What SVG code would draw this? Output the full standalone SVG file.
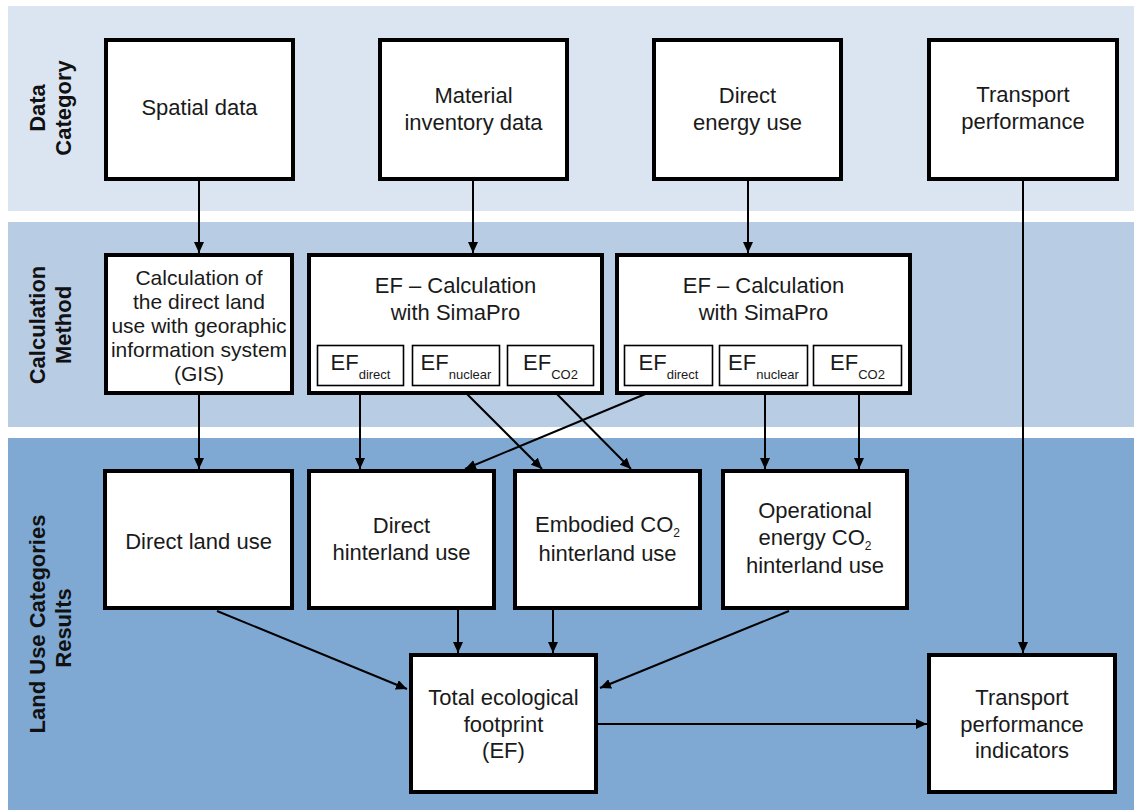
<svg xmlns="http://www.w3.org/2000/svg" width="1134" height="810" viewBox="0 0 1134 810">
  <style>
    .band1 { fill: #dbe5f2; }
    .band2 { fill: #b8cce4; }
    .band3 { fill: #7fa9d3; }
    .box { fill: #ffffff; stroke: #000000; stroke-width: 4; }
    .sub { fill: #ffffff; stroke: #000000; stroke-width: 1.6; }
    .t { font-family: "Liberation Sans", Arial, sans-serif; font-size: 22px; fill: #1a1a1a; text-anchor: middle; }
    .ts { font-family: "Liberation Sans", Arial, sans-serif; font-size: 21px; fill: #1a1a1a; text-anchor: middle; }
    .small { font-size: 13px; }
    .idx { font-size: 12px; }
    .lab { font-family: "Liberation Sans", Arial, sans-serif; font-size: 22px; font-weight: bold; fill: #111111; text-anchor: middle; }
    .c { fill: none; stroke: #000000; stroke-width: 2; marker-end: url(#arrow); }
  </style>
  <defs>
    <marker id="arrow" markerUnits="userSpaceOnUse" markerWidth="11" markerHeight="10" refX="11" refY="5" orient="auto">
      <path d="M0,0 L11,5 L0,10 z" fill="#000000"/>
    </marker>
  </defs>

  <!-- background bands -->
  <g id="bands">
    <rect class="band1" x="8" y="6" width="1126" height="205"/>
    <rect class="band2" x="8" y="222" width="1126" height="205"/>
    <rect class="band3" x="8" y="438" width="1126" height="372"/>
  </g>

  <!-- row labels -->
  <g id="row-labels">
    <text class="lab" transform="translate(45,108) rotate(-90)">Data</text>
    <text class="lab" transform="translate(71,108) rotate(-90)">Category</text>
    <text class="lab" transform="translate(45,325) rotate(-90)">Calculation</text>
    <text class="lab" transform="translate(71,325) rotate(-90)">Method</text>
    <text class="lab" transform="translate(45,624) rotate(-90)">Land Use Categories</text>
    <text class="lab" transform="translate(71,628) rotate(-90)">Results</text>
  </g>

  <!-- connectors -->
  <g id="connectors">
    <path class="c" d="M199,181 L199,253"/>
    <path class="c" d="M473,181 L473,253"/>
    <path class="c" d="M748,181 L748,253"/>
    <path class="c" d="M1023,181 L1023,653"/>
    <path class="c" d="M199,395 L199,469"/>
    <path class="c" d="M360,385 L360,469"/>
    <path class="c" d="M458,385 L542,469"/>
    <path class="c" d="M548,385 L631,469"/>
    <path class="c" d="M667,385 L465,469"/>
    <path class="c" d="M765,385 L765,469"/>
    <path class="c" d="M859,385 L859,469"/>
    <path class="c" d="M217,611 L407,689"/>
    <path class="c" d="M458,610 L458,653"/>
    <path class="c" d="M553,610 L553,653"/>
    <path class="c" d="M789,611 L600,688"/>
    <path class="c" d="M598,724 L927,724"/>
  </g>

  <!-- data category -->
  <g id="spatial-data">
    <rect class="box" x="106" y="40" width="187" height="139"/>
    <text class="t" x="199.5" y="115">Spatial data</text>
  </g>
  <g id="material-inventory">
    <rect class="box" x="380" y="40" width="187" height="139"/>
    <text class="t" x="473.5" y="103">Material</text>
    <text class="t" x="473.5" y="130">inventory data</text>
  </g>
  <g id="direct-energy">
    <rect class="box" x="654" y="40" width="187" height="139"/>
    <text class="t" x="747.5" y="103">Direct</text>
    <text class="t" x="747.5" y="130">energy use</text>
  </g>
  <g id="transport-performance">
    <rect class="box" x="929" y="40" width="188" height="139"/>
    <text class="t" x="1023" y="102">Transport</text>
    <text class="t" x="1023" y="129">performance</text>
  </g>

  <!-- calculation method -->
  <g id="gis-calculation">
    <rect class="box" x="106" y="255" width="186" height="138"/>
    <text class="ts" x="199" y="285">Calculation of</text>
    <text class="ts" x="199" y="309">the direct land</text>
    <text class="ts" x="199" y="333">use with georaphic</text>
    <text class="ts" x="199" y="357">information system</text>
    <text class="ts" x="199" y="381">(GIS)</text>
  </g>
  <g id="ef-simapro-material">
    <rect class="box" x="309" y="255" width="293" height="138"/>
    <text class="t" x="455.5" y="293">EF – Calculation</text>
    <text class="t" x="455.5" y="320">with SimaPro</text>
    <rect class="sub" x="317.5" y="345.5" width="86" height="40"/>
    <text class="t" x="360.5" y="370">EF<tspan class="small" dy="9">direct</tspan></text>
    <rect class="sub" x="412.5" y="345.5" width="87" height="40"/>
    <text class="t" x="456" y="370">EF<tspan class="small" dy="9">nuclear</tspan></text>
    <rect class="sub" x="507.5" y="345.5" width="86" height="40"/>
    <text class="t" x="550.5" y="370">EF<tspan class="small" dy="9">CO2</tspan></text>
  </g>
  <g id="ef-simapro-energy">
    <rect class="box" x="617" y="255" width="293" height="138"/>
    <text class="t" x="763.5" y="293">EF – Calculation</text>
    <text class="t" x="763.5" y="320">with SimaPro</text>
    <rect class="sub" x="624.5" y="345.5" width="88" height="40"/>
    <text class="t" x="668.5" y="370">EF<tspan class="small" dy="9">direct</tspan></text>
    <rect class="sub" x="719.5" y="345.5" width="88" height="40"/>
    <text class="t" x="763.5" y="370">EF<tspan class="small" dy="9">nuclear</tspan></text>
    <rect class="sub" x="813.5" y="345.5" width="88" height="40"/>
    <text class="t" x="857.5" y="370">EF<tspan class="small" dy="9">CO2</tspan></text>
  </g>

  <!-- land use categories -->
  <g id="direct-land-use">
    <rect class="box" x="105" y="471" width="187" height="137"/>
    <text class="t" x="198.5" y="549">Direct land use</text>
  </g>
  <g id="direct-hinterland-use">
    <rect class="box" x="309" y="471" width="185" height="137"/>
    <text class="t" x="401.5" y="533">Direct</text>
    <text class="t" x="401.5" y="560">hinterland use</text>
  </g>
  <g id="embodied-co2">
    <rect class="box" x="515" y="471" width="185" height="137"/>
    <text class="t" x="607.5" y="532">Embodied CO<tspan class="idx" dy="5">2</tspan></text>
    <text class="t" x="607.5" y="561">hinterland use</text>
  </g>
  <g id="operational-energy-co2">
    <rect class="box" x="723" y="471" width="184" height="137"/>
    <text class="t" x="815" y="518">Operational</text>
    <text class="t" x="815" y="545">energy CO<tspan class="idx" dy="5">2</tspan></text>
    <text class="t" x="815" y="573">hinterland use</text>
  </g>

  <!-- results -->
  <g id="total-ecological-footprint">
    <rect class="box" x="411" y="655" width="185" height="137"/>
    <text class="t" x="503.5" y="705">Total ecological</text>
    <text class="t" x="503.5" y="732">footprint</text>
    <text class="t" x="503.5" y="758">(EF)</text>
  </g>
  <g id="transport-performance-indicators">
    <rect class="box" x="929" y="655" width="186" height="137"/>
    <text class="t" x="1022" y="705">Transport</text>
    <text class="t" x="1022" y="732">performance</text>
    <text class="t" x="1022" y="758">indicators</text>
  </g>
</svg>
